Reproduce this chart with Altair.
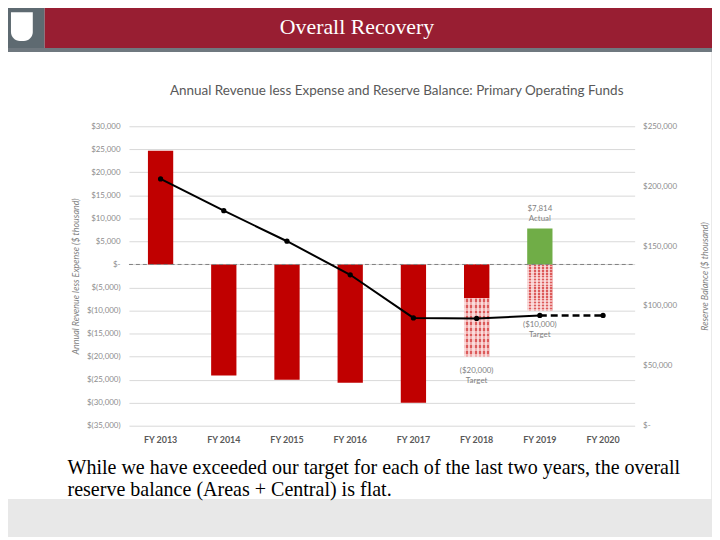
import altair as alt
import pandas as pd

years = ["FY 2013", "FY 2014", "FY 2015", "FY 2016", "FY 2017", "FY 2018", "FY 2019", "FY 2020"]
net_years = ["FY 2013", "FY 2014", "FY 2015", "FY 2016", "FY 2017", "FY 2018", "FY 2019"]
net_values = [24700, -24100, -25000, -25700, -30000, -7300, 7814]
net_kind = ["deficit", "deficit", "deficit", "deficit", "deficit", "deficit", "actual"]
target_years = ["FY 2018", "FY 2019"]
target_values = [-20000, -10000]
target_labels = ["($20,000)\nTarget", "($10,000)\nTarget"]
actual_label_year = ["FY 2019"]
actual_label_value = [7814]
actual_label_text = ["$7,814\nActual"]
balance_years = ["FY 2013", "FY 2014", "FY 2015", "FY 2016", "FY 2017", "FY 2018", "FY 2019"]
balance_values = [206000, 179500, 154000, 126000, 90000, 89500, 92000]
proj_years = ["FY 2019", "FY 2020"]
proj_values = [92000, 92000]
left_ticks = list(range(-35000, 30001, 5000))
right_ticks = list(range(0, 250001, 50000))

bars_df = pd.DataFrame({"year": net_years, "value": net_values, "kind": net_kind})
target_df = pd.DataFrame({"year": target_years, "value": target_values, "label": target_labels})
actual_df = pd.DataFrame({"year": actual_label_year, "value": actual_label_value, "label": actual_label_text})
bal_df = pd.DataFrame({"year": balance_years, "value": balance_values})
proj_df = pd.DataFrame({"year": proj_years, "value": proj_values})
all_pts = pd.DataFrame({"year": balance_years + ["FY 2020"], "value": balance_values + [proj_values[-1]]})
one = pd.DataFrame({"k": [0]})

FONT = "Lato"
GRAY = "#7f7f7f"

xenc = alt.X("year:N", sort=years,
             scale=alt.Scale(domain=years, paddingInner=0.6, paddingOuter=0.3),
             axis=alt.Axis(title=None, ticks=False, domain=False, labelAngle=0,
                           labelFontWeight="bold", labelColor="#595959", labelFontSize=9,
                           labelFont=FONT, labelPadding=10))

money_expr = ("datum.value == 0 ? '$-' : (datum.value < 0 ? '$(' + format(-datum.value, ',') + ')' : "
              "'$' + format(datum.value, ','))")

lscale = alt.Scale(domain=[-35000, 30000], nice=False, zero=False)
laxis = alt.Axis(values=left_ticks, tickCount=len(left_ticks), labelExpr=money_expr, grid=True,
                 gridColor="#d9d9d9",
                 domain=False, ticks=False, labelColor="#8c8c8c", labelFontSize=8, labelFont=FONT,
                 labelPadding=9, labelOverlap=False, labelFlush=False,
                 title="Annual Revenue less Expense ($ thousand)",
                 titleFontStyle="italic", titleFontWeight="normal", titleColor=GRAY,
                 titleFontSize=9, titleFont=FONT, titlePadding=6)
rscale = alt.Scale(domain=[0, 250000], nice=False)
raxis = alt.Axis(orient="right", values=right_ticks, tickCount=len(right_ticks), labelExpr=money_expr,
                 grid=False,
                 domain=False, ticks=False, labelColor="#8c8c8c", labelFontSize=8, labelFont=FONT,
                 labelPadding=8, labelOverlap=False, labelFlush=False,
                 title="Reserve Balance ($ thousand)", titleAngle=270,
                 titleFontStyle="italic", titleFontWeight="normal", titleColor=GRAY,
                 titleFontSize=9, titleFont=FONT, titlePadding=33)


def stripes(n, c1, c2, vertical):
    stops = []
    for i in range(n):
        a = i / n
        b = (i + 0.5) / n
        c = (i + 1) / n
        stops += [{"offset": a, "color": c1}, {"offset": b, "color": c1},
                  {"offset": b, "color": c2}, {"offset": c, "color": c2}]
    g = {"gradient": "linear", "stops": stops, "x1": 0, "y1": 0}
    if vertical:
        g.update({"x2": 0, "y2": 1})
    else:
        g.update({"x2": 1, "y2": 0})
    return g


yl = alt.Y("value:Q", scale=lscale, axis=laxis)

tgt_a = alt.Chart(target_df).mark_bar(color=stripes(6, "#f4c8c8", "#dc5a5a", False)).encode(x=xenc, y=yl)
tgt_b = alt.Chart(target_df).mark_bar(color=stripes(16, "rgba(255,255,255,0.0)", "rgba(255,230,230,0.6)", True)).encode(x=xenc, y=yl)
solid = alt.Chart(bars_df).mark_bar().encode(
    x=xenc, y=yl,
    color=alt.Color("kind:N", scale=alt.Scale(domain=["deficit", "actual"], range=["#c00000", "#70ad47"]), legend=None))
zero = alt.Chart(one).mark_rule(color="#808080", strokeDash=[4, 3], strokeWidth=1).encode(
    y=alt.datum(0, scale=lscale), x=alt.value(0), x2=alt.value(510))
tgt_txt = alt.Chart(target_df).mark_text(baseline="top", dy=11, fontSize=8, color=GRAY, font=FONT,
                                         lineBreak="\n", lineHeight=10).encode(x=xenc, y=yl, text="label:N")
act_txt = alt.Chart(actual_df).mark_text(baseline="bottom", dy=-16, fontSize=8, color=GRAY, font=FONT,
                                         lineBreak="\n", lineHeight=10).encode(x=xenc, y=yl, text="label:N")
left_group = alt.layer(tgt_a, tgt_b, solid, zero, tgt_txt, act_txt)

yr = alt.Y("value:Q", scale=rscale, axis=raxis)
line1 = alt.Chart(bal_df).mark_line(color="black", strokeWidth=2).encode(x=xenc, y=yr)
line2 = alt.Chart(proj_df).mark_line(color="black", strokeWidth=2.5, strokeDash=[7, 4]).encode(x=xenc, y=yr)
pts = alt.Chart(all_pts).mark_circle(color="black", size=28, opacity=1).encode(x=xenc, y=yr)
right_group = alt.layer(line1, line2, pts)


def rect(x, x2, y, y2, color, **kw):
    return alt.Chart(one).mark_rect(color=color, **kw).encode(
        x=alt.value(x), x2=alt.value(x2), y=alt.value(y), y2=alt.value(y2))


def label(txt, x, y, **kw):
    return alt.Chart(one).mark_text(**kw).encode(x=alt.value(x), y=alt.value(y), text=alt.value(txt))


decor = [
    rect(-130, 600, 376, 420, "#e8e8e8"),
    rect(-130, -85, -125, -79, "#5e6a71"),
    rect(-85, 600, -125, -79, "#981e32"),
    rect(-130, 600, -79, -75, "#6f787f"),
    rect(-119, -97, -115, -86, "white", cornerRadiusBottomLeft=9, cornerRadiusBottomRight=9),
    alt.Chart(one).mark_rule(color="#d6d6d6").encode(x=alt.value(-128), y=alt.value(-75), y2=alt.value(376)),
    alt.Chart(one).mark_rule(color="#d6d6d6").encode(x=alt.value(588), y=alt.value(-75), y2=alt.value(376)),
    label("Overall Recovery", 230, -100, font="Liberation Serif", fontSize=22, color="white",
          align="center", baseline="middle"),
    label("Annual Revenue less Expense and Reserve Balance: Primary Operating Funds", 270, -36,
          font=FONT, fontSize=13.6, color="#595959", align="center", baseline="middle"),
    label("While we have exceeded our target for each of the last two years, the overall", -62, 351,
          font="Liberation Serif", fontSize=20.2, color="black", align="left", baseline="alphabetic"),
    label("reserve balance (Areas + Central) is flat.", -62, 373,
          font="Liberation Serif", fontSize=20.2, color="black", align="left", baseline="alphabetic"),
]

chart = alt.layer(*decor, left_group, right_group).resolve_scale(y="independent").properties(
    width=510, height=302,
    padding={"left": 122, "top": 117, "right": 78, "bottom": 110},
    autosize="none", background="white",
).configure_view(stroke=None)

chart.save("out.html", embed_options={"renderer": "svg", "actions": False})
